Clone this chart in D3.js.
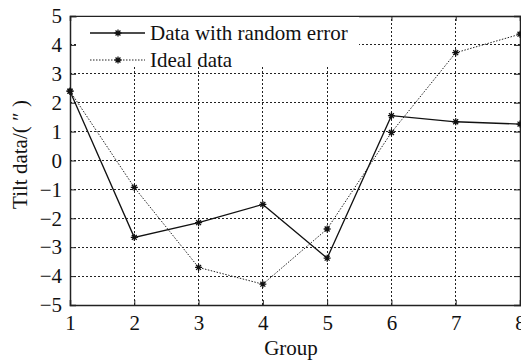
<!DOCTYPE html>
<html>
<head>
<meta charset="utf-8">
<script src="https://cdn.jsdelivr.net/npm/d3@7"></script>
<style>
  body { margin: 0; background: #fff; }
  text { font-family: "Liberation Serif", "Times New Roman", serif; fill: #111; }
</style>
</head>
<body>
<div id="chart"></div>
<script>
// donnees
const groups = [1, 2, 3, 4, 5, 6, 7, 8];
const randomData = [2.4, -2.66, -2.15, -1.52, -3.38, 1.55, 1.34, 1.26];
const idealData = [2.4, -0.93, -3.7, -4.28, -2.37, 0.97, 3.73, 4.37];
const yTicks = [-5, -4, -3, -2, -1, 0, 1, 2, 3, 4, 5];
const seriesNames = ["Data with random error", "Ideal data"];

const W = 521, H = 362;
const m = {left: 70, right: 1, top: 16, bottom: 57};

const svg = d3.select("#chart").append("svg")
  .attr("width", W).attr("height", H);

const x = d3.scaleLinear().domain([1, 8]).range([m.left, W - m.right]);
const y = d3.scaleLinear().domain([-5, 5]).range([H - m.bottom, m.top]);

// grille pointillee
const grid = svg.append("g").attr("shape-rendering", "crispEdges");
grid.selectAll(".gx").data(groups.slice(1, -1)).enter().append("line")
  .attr("x1", d => x(d)).attr("x2", d => x(d))
  .attr("y1", y(-5)).attr("y2", y(5))
  .attr("stroke", "#222").attr("stroke-width", 1).attr("stroke-dasharray", "2,2");
grid.selectAll(".gy").data(yTicks.slice(1, -1)).enter().append("line")
  .attr("x1", x(1)).attr("x2", x(8))
  .attr("y1", d => y(d)).attr("y2", d => y(d))
  .attr("stroke", "#222").attr("stroke-width", 1).attr("stroke-dasharray", "2,2");

// axes
const xAxis = svg.append("g").attr("transform", `translate(0,${y(-5)})`)
  .call(d3.axisBottom(x).tickValues(groups).tickSize(-5).tickPadding(10).tickFormat(d3.format("d")));
const xTop = svg.append("g").attr("transform", `translate(0,${y(5)})`)
  .call(d3.axisTop(x).tickValues(groups).tickSize(-5).tickFormat(""));
const yAxis = svg.append("g").attr("transform", `translate(${x(1)},0)`)
  .call(d3.axisLeft(y).tickValues(yTicks).tickSize(-6).tickPadding(8).tickFormat(d => d < 0 ? "\u2212" + Math.abs(d) : d));
const yRight = svg.append("g").attr("transform", `translate(${x(8)},0)`)
  .call(d3.axisRight(y).tickValues(yTicks).tickSize(-6).tickFormat(""));

[xAxis, xTop, yAxis, yRight].forEach(a => {
  a.attr("font-family", null).attr("font-size", null);
  a.select(".domain").attr("stroke", "#222").attr("stroke-width", 1.5);
  a.selectAll(".tick line").attr("stroke", "#222");
  a.selectAll("text").style("font-size", "21px").attr("fill", "#111");
});

// series
const line = d3.line().x((d, i) => x(groups[i])).y(d => y(d));

function star(g, cx, cy) {
  const r = 3.5;
  g.append("path")
    .attr("d", `M${cx - r},${cy}H${cx + r}M${cx},${cy - r}V${cy + r}M${cx - r * 0.7},${cy - r * 0.7}L${cx + r * 0.7},${cy + r * 0.7}M${cx - r * 0.7},${cy + r * 0.7}L${cx + r * 0.7},${cy - r * 0.7}`)
    .attr("stroke", "#111").attr("stroke-width", 1.3);
}

svg.append("path").datum(idealData).attr("d", line)
  .attr("fill", "none").attr("stroke", "#222").attr("stroke-width", 1).attr("stroke-dasharray", "1.5,1.5");
svg.append("path").datum(randomData).attr("d", line)
  .attr("fill", "none").attr("stroke", "#111").attr("stroke-width", 1.3);

const marks = svg.append("g");
idealData.forEach((v, i) => star(marks, x(groups[i]), y(v)));
randomData.forEach((v, i) => star(marks, x(groups[i]), y(v)));

// legende
const leg = svg.append("g");
leg.append("rect").attr("x", 77).attr("y", 17).attr("width", 282).attr("height", 50).attr("fill", "#fff");
const legY = [33, 60];
leg.append("line").attr("x1", 90).attr("x2", 145).attr("y1", legY[0]).attr("y2", legY[0])
  .attr("stroke", "#111").attr("stroke-width", 1.3);
leg.append("line").attr("x1", 90).attr("x2", 145).attr("y1", legY[1]).attr("y2", legY[1])
  .attr("stroke", "#222").attr("stroke-width", 1).attr("stroke-dasharray", "1.5,1.5");
legY.forEach(v => star(leg, 118, v));
seriesNames.forEach((s, i) => {
  leg.append("text").attr("x", 150).attr("y", legY[i] + 7).style("font-size", "21px").text(s);
});

// titres des axes
svg.append("text").attr("x", 291).attr("y", 355)
  .attr("text-anchor", "middle").style("font-size", "21px").text("Group");
svg.append("text").attr("transform", `translate(27,${y(0) - 6}) rotate(-90)`)
  .attr("text-anchor", "middle").style("font-size", "21px").text("Tilt data/( \u2033 )");
</script>
</body>
</html>
